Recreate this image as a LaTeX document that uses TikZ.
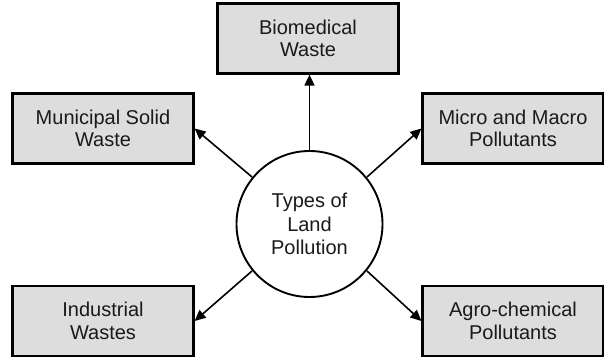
\documentclass[tikz,border=0pt]{standalone}
\usepackage{fontspec}
\setmainfont{Liberation Sans}
\usetikzlibrary{arrows.meta}
\definecolor{boxgray}{HTML}{DDDDDD}
\definecolor{txt}{HTML}{1A1A1A}
\tikzset{
  wastebox/.style={draw=black, line width=2.2pt, fill=boxgray, minimum width=181pt, minimum height=70pt, inner sep=0pt, align=center, text=txt, font=\fontsize{20}{22.5}\selectfont},
  centre/.style={draw=black, line width=1.9pt, fill=white, circle, minimum size=146pt, inner sep=0pt, align=center, text=txt, font=\fontsize{20}{23.5}\selectfont},
  link/.style={line width=1.6pt, draw=black, -{Triangle[length=11pt,width=10pt]}}
}
\begin{document}
\begin{tikzpicture}[x=1pt,y=1pt]
\useasboundingbox (0,0) rectangle (604,361);
\node[centre] (c) at (309.5,137) {Types of\\Land\\Pollution};
\node[wastebox] (bio) at (308,322.5) {Biomedical\\Waste};
\node[wastebox] (mun) at (103,232.5) {Municipal Solid\\Waste};
\node[wastebox] (ind) at (103,40) {Industrial\\Wastes};
\node[wastebox] (mic) at (513,232.5) {Micro and Macro\\Pollutants};
\node[wastebox] (agr) at (513,40) {Agro-chemical\\Pollutants};
\draw[link] (c.north) -- (c.north |- bio.south);
\draw[link] (c) ++(-57.5,47) -- (mun.east);
\draw[link] (c) ++(57.5,47) -- (mic.west);
\draw[link] (c) ++(-57.5,-47) -- (ind.east);
\draw[link] (c) ++(57.5,-47) -- (agr.west);
\end{tikzpicture}
\end{document}
